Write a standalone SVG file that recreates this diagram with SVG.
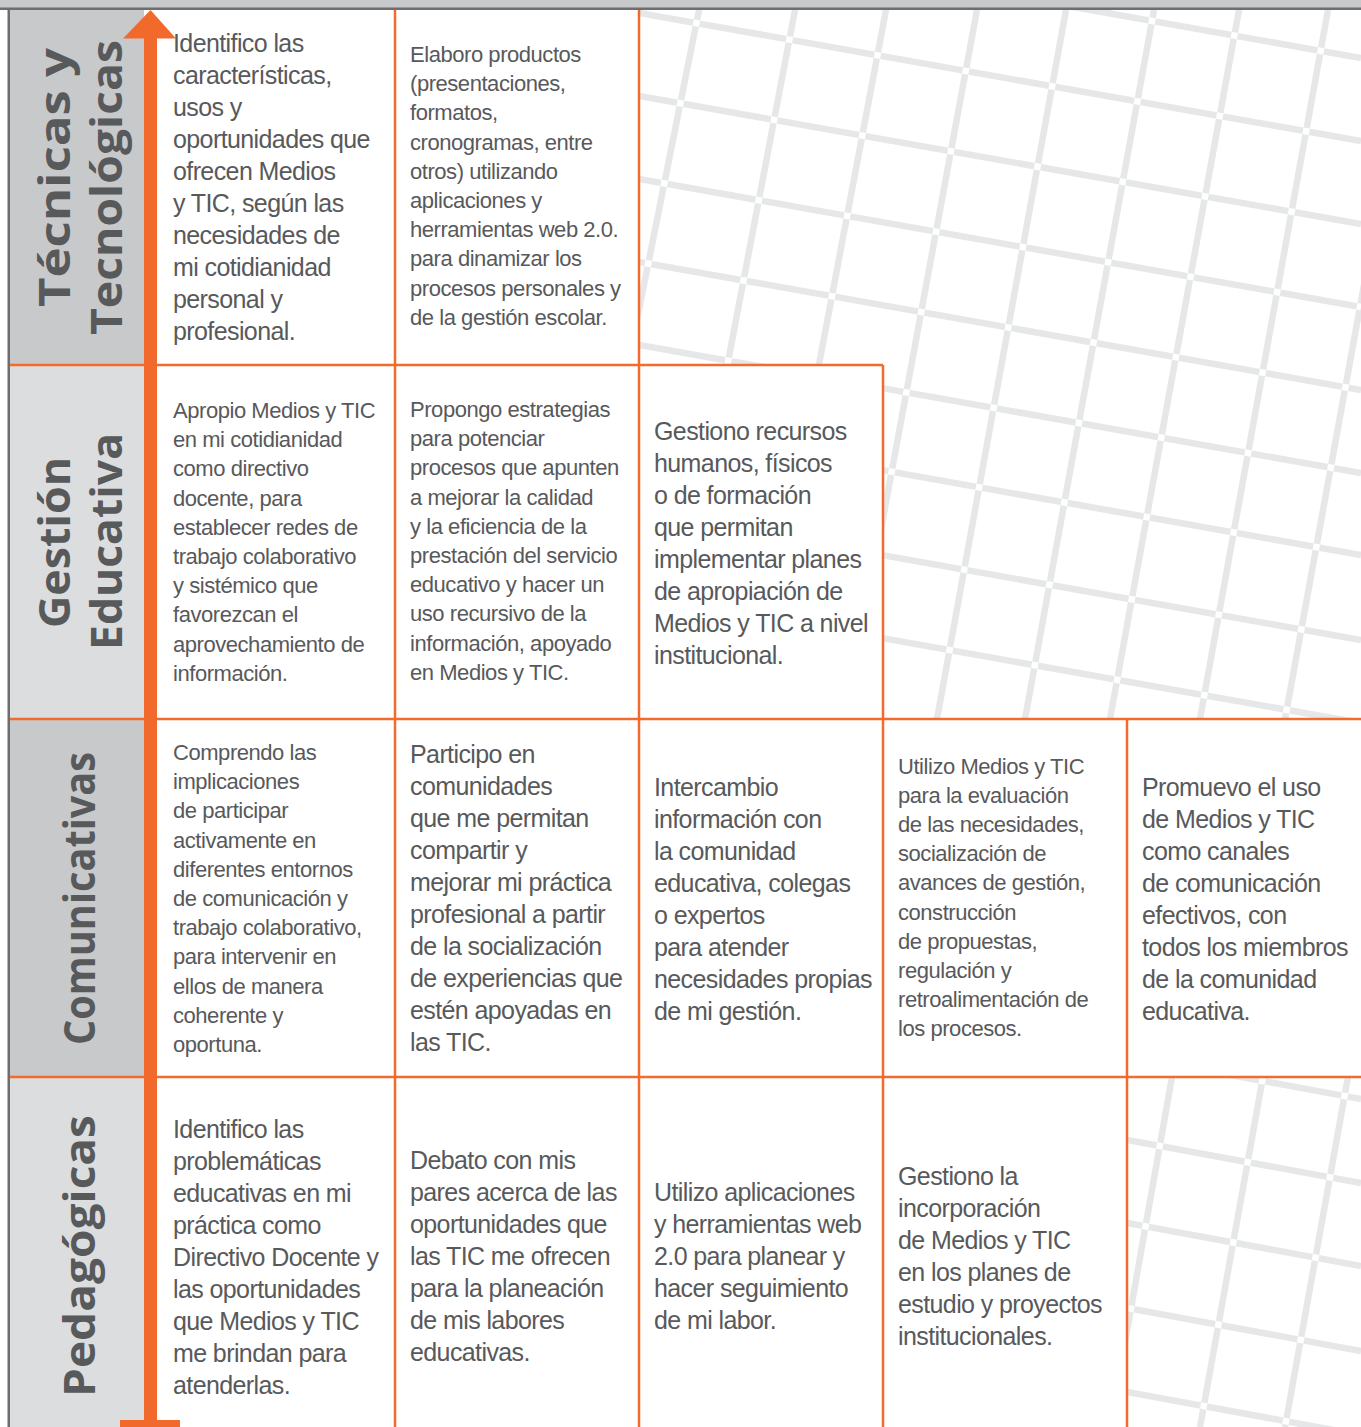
<svg xmlns="http://www.w3.org/2000/svg" xmlns:xlink="http://www.w3.org/1999/xlink" width="1361" height="1427" viewBox="0 0 1361 1427">
<style>
.t{font-family:"Liberation Sans",Arial,sans-serif;fill:#58595b}
.lg{font-size:25px;letter-spacing:-0.6px}
.sm{font-size:22px;letter-spacing:-0.45px}
.lbl{font-family:"Open Sans","DejaVu Sans",sans-serif;font-weight:700;font-size:43px;fill:#58595b;text-anchor:middle}
.ol{stroke:#f26b2c;stroke-width:2.5;fill:none}
.g1{fill:#c8c9cb}
.g2{fill:#dcdddf}
</style>
<defs>
<g id="gh">
<line x1="639" y1="-70" x2="1361" y2="58"/>
<line x1="639" y1="13" x2="1361" y2="141"/>
<line x1="639" y1="96" x2="1361" y2="224"/>
<line x1="639" y1="179" x2="1361" y2="307"/>
<line x1="639" y1="262" x2="1361" y2="390"/>
<line x1="639" y1="345" x2="1361" y2="473"/>
<line x1="639" y1="427" x2="1361" y2="555"/>
<line x1="639" y1="512" x2="1361" y2="640"/>
<line x1="639" y1="595" x2="1361" y2="723"/>
<line x1="639" y1="678" x2="1361" y2="806"/>
<line x1="1127" y1="1056" x2="1361" y2="1099"/>
<line x1="1127" y1="1140" x2="1361" y2="1183"/>
<line x1="1127" y1="1223" x2="1361" y2="1266"/>
<line x1="1127" y1="1308" x2="1361" y2="1351"/>
<line x1="1127" y1="1392" x2="1361" y2="1435"/>
</g>
<g id="gv">
<line x1="699" y1="10" x2="557" y2="719"/>
<line x1="795" y1="10" x2="660" y2="719"/>
<line x1="886" y1="10" x2="752" y2="719"/>
<line x1="977" y1="10" x2="846" y2="719"/>
<line x1="1066" y1="10" x2="937" y2="719"/>
<line x1="1154" y1="10" x2="1025" y2="719"/>
<line x1="1239" y1="10" x2="1110" y2="719"/>
<line x1="1328" y1="10" x2="1200" y2="719"/>
<line x1="1414" y1="10" x2="1285" y2="719"/>
<line x1="1172" y1="1077" x2="1110" y2="1427"/>
<line x1="1263" y1="1077" x2="1200" y2="1427"/>
<line x1="1348" y1="1077" x2="1285" y2="1427"/>
</g>
<clipPath id="cgrid"><path d="M639 10H1361V719H883V365H639Z M1127 1077H1361V1427H1127Z"/></clipPath>
<mask id="noV" maskUnits="userSpaceOnUse" x="0" y="0" width="1361" height="1427"><rect width="1361" height="1427" fill="#fff"/><use href="#gv" stroke="#000" stroke-width="6.5"/></mask>
<mask id="noH" maskUnits="userSpaceOnUse" x="0" y="0" width="1361" height="1427"><rect width="1361" height="1427" fill="#fff"/><use href="#gh" stroke="#000" stroke-width="6.5"/></mask>
</defs>
<rect width="1361" height="1427" fill="#fff"/>
<g id="background-grid" clip-path="url(#cgrid)">
<use href="#gh" stroke="#e6e7e8" stroke-width="6.5" mask="url(#noV)"/>
<use href="#gv" stroke="#e6e7e8" stroke-width="6.5" mask="url(#noH)"/>
</g>
<g id="label-tecnicas">
<rect class="g1" x="10" y="10" width="134" height="355"/>
<text class="lbl" transform="translate(70,177.5) rotate(-90)" textLength="259" lengthAdjust="spacingAndGlyphs">Técnicas y</text>
<text class="lbl" transform="translate(122,187.5) rotate(-90)" textLength="295" lengthAdjust="spacingAndGlyphs">Tecnológicas</text>
</g>
<g id="label-gestion">
<rect class="g2" x="10" y="365" width="134" height="354"/>
<text class="lbl" transform="translate(70,542.5) rotate(-90)" textLength="171" lengthAdjust="spacingAndGlyphs">Gestión</text>
<text class="lbl" transform="translate(122,541.5) rotate(-90)" textLength="217" lengthAdjust="spacingAndGlyphs">Educativa</text>
</g>
<g id="label-comunicativas">
<rect class="g1" x="10" y="719" width="134" height="358"/>
<text class="lbl" transform="translate(95,898.5) rotate(-90)" textLength="293" lengthAdjust="spacingAndGlyphs">Comunicativas</text>
</g>
<g id="label-pedagogicas">
<rect class="g2" x="10" y="1077" width="134" height="350"/>
<text class="lbl" transform="translate(95,1256) rotate(-90)" textLength="282" lengthAdjust="spacingAndGlyphs">Pedagógicas</text>
</g>
<g id="connectors">
<path class="ol" d="M395 10V1427M639 10V1427M883 365V1427M1127 719V1427M10 365H883M10 719H1361M10 1077H1361"/>
</g>
<g id="frame">
<rect x="0" y="0" width="1361" height="8" fill="#c8c9cb"/>
<rect x="0" y="7.5" width="1361" height="2.5" fill="#6d6e71"/>
<rect x="7.5" y="10" width="2.5" height="1417" fill="#6d6e71"/>
</g>
<g id="arrow" fill="#f26a2b">
<rect x="144" y="36" width="13" height="1386"/>
<polygon points="150.5,10 123,38.5 176,38.5"/>
<rect x="120" y="1420" width="60" height="7"/>
</g>
<g id="r1c1"><text class="t lg" y="52">
<tspan x="173">Identifico las</tspan><tspan x="173" dy="32">características,</tspan><tspan x="173" dy="32">usos y</tspan><tspan x="173" dy="32">oportunidades que</tspan><tspan x="173" dy="32">ofrecen Medios</tspan><tspan x="173" dy="32">y TIC, según las</tspan><tspan x="173" dy="32">necesidades de</tspan><tspan x="173" dy="32">mi cotidianidad</tspan><tspan x="173" dy="32">personal y</tspan><tspan x="173" dy="32">profesional.</tspan></text></g>
<g id="r1c2"><text class="t sm" y="62">
<tspan x="410">Elaboro productos</tspan><tspan x="410" dy="29.2">(presentaciones,</tspan><tspan x="410" dy="29.2">formatos,</tspan><tspan x="410" dy="29.2">cronogramas, entre</tspan><tspan x="410" dy="29.2">otros) utilizando</tspan><tspan x="410" dy="29.2">aplicaciones y</tspan><tspan x="410" dy="29.2">herramientas web 2.0.</tspan><tspan x="410" dy="29.2">para dinamizar los</tspan><tspan x="410" dy="29.2">procesos personales y</tspan><tspan x="410" dy="29.2">de la gestión escolar.</tspan></text></g>
<g id="r2c1"><text class="t sm" y="418">
<tspan x="173">Apropio Medios y TIC</tspan><tspan x="173" dy="29.2">en mi cotidianidad</tspan><tspan x="173" dy="29.2">como directivo</tspan><tspan x="173" dy="29.2">docente, para</tspan><tspan x="173" dy="29.2">establecer redes de</tspan><tspan x="173" dy="29.2">trabajo colaborativo</tspan><tspan x="173" dy="29.2">y sistémico que</tspan><tspan x="173" dy="29.2">favorezcan el</tspan><tspan x="173" dy="29.2">aprovechamiento de</tspan><tspan x="173" dy="29.2">información.</tspan></text></g>
<g id="r2c2"><text class="t sm" y="417">
<tspan x="410">Propongo estrategias</tspan><tspan x="410" dy="29.2">para potenciar</tspan><tspan x="410" dy="29.2">procesos que apunten</tspan><tspan x="410" dy="29.2">a mejorar la calidad</tspan><tspan x="410" dy="29.2">y la eficiencia de la</tspan><tspan x="410" dy="29.2">prestación del servicio</tspan><tspan x="410" dy="29.2">educativo y hacer un</tspan><tspan x="410" dy="29.2">uso recursivo de la</tspan><tspan x="410" dy="29.2">información, apoyado</tspan><tspan x="410" dy="29.2">en Medios y TIC.</tspan></text></g>
<g id="r2c3"><text class="t lg" y="440">
<tspan x="654">Gestiono recursos</tspan><tspan x="654" dy="32">humanos, físicos</tspan><tspan x="654" dy="32">o de formación</tspan><tspan x="654" dy="32">que permitan</tspan><tspan x="654" dy="32">implementar planes</tspan><tspan x="654" dy="32">de apropiación de</tspan><tspan x="654" dy="32">Medios y TIC a nivel</tspan><tspan x="654" dy="32">institucional.</tspan></text></g>
<g id="r3c1"><text class="t sm" y="760">
<tspan x="173">Comprendo las</tspan><tspan x="173" dy="29.2">implicaciones</tspan><tspan x="173" dy="29.2">de participar</tspan><tspan x="173" dy="29.2">activamente en</tspan><tspan x="173" dy="29.2">diferentes entornos</tspan><tspan x="173" dy="29.2">de comunicación y</tspan><tspan x="173" dy="29.2">trabajo colaborativo,</tspan><tspan x="173" dy="29.2">para intervenir en</tspan><tspan x="173" dy="29.2">ellos de manera</tspan><tspan x="173" dy="29.2">coherente y</tspan><tspan x="173" dy="29.2">oportuna.</tspan></text></g>
<g id="r3c2"><text class="t lg" y="763">
<tspan x="410">Participo en</tspan><tspan x="410" dy="32">comunidades</tspan><tspan x="410" dy="32">que me permitan</tspan><tspan x="410" dy="32">compartir y</tspan><tspan x="410" dy="32">mejorar mi práctica</tspan><tspan x="410" dy="32">profesional a partir</tspan><tspan x="410" dy="32">de la socialización</tspan><tspan x="410" dy="32">de experiencias que</tspan><tspan x="410" dy="32">estén apoyadas en</tspan><tspan x="410" dy="32">las TIC.</tspan></text></g>
<g id="r3c3"><text class="t lg" y="796">
<tspan x="654">Intercambio</tspan><tspan x="654" dy="32">información con</tspan><tspan x="654" dy="32">la comunidad</tspan><tspan x="654" dy="32">educativa, colegas</tspan><tspan x="654" dy="32">o expertos</tspan><tspan x="654" dy="32">para atender</tspan><tspan x="654" dy="32">necesidades propias</tspan><tspan x="654" dy="32">de mi gestión.</tspan></text></g>
<g id="r3c4"><text class="t sm" y="774">
<tspan x="898">Utilizo Medios y TIC</tspan><tspan x="898" dy="29.1">para la evaluación</tspan><tspan x="898" dy="29.1">de las necesidades,</tspan><tspan x="898" dy="29.1">socialización de</tspan><tspan x="898" dy="29.1">avances de gestión,</tspan><tspan x="898" dy="29.1">construcción</tspan><tspan x="898" dy="29.1">de propuestas,</tspan><tspan x="898" dy="29.1">regulación y</tspan><tspan x="898" dy="29.1">retroalimentación de</tspan><tspan x="898" dy="29.1">los procesos.</tspan></text></g>
<g id="r3c5"><text class="t lg" y="796">
<tspan x="1142">Promuevo el uso</tspan><tspan x="1142" dy="32">de Medios y TIC</tspan><tspan x="1142" dy="32">como canales</tspan><tspan x="1142" dy="32">de comunicación</tspan><tspan x="1142" dy="32">efectivos, con</tspan><tspan x="1142" dy="32">todos los miembros</tspan><tspan x="1142" dy="32">de la comunidad</tspan><tspan x="1142" dy="32">educativa.</tspan></text></g>
<g id="r4c1"><text class="t lg" y="1138">
<tspan x="173">Identifico las</tspan><tspan x="173" dy="32">problemáticas</tspan><tspan x="173" dy="32">educativas en mi</tspan><tspan x="173" dy="32">práctica como</tspan><tspan x="173" dy="32">Directivo Docente y</tspan><tspan x="173" dy="32">las oportunidades</tspan><tspan x="173" dy="32">que Medios y TIC</tspan><tspan x="173" dy="32">me brindan para</tspan><tspan x="173" dy="32">atenderlas.</tspan></text></g>
<g id="r4c2"><text class="t lg" y="1169">
<tspan x="410">Debato con mis</tspan><tspan x="410" dy="32">pares acerca de las</tspan><tspan x="410" dy="32">oportunidades que</tspan><tspan x="410" dy="32">las TIC me ofrecen</tspan><tspan x="410" dy="32">para la planeación</tspan><tspan x="410" dy="32">de mis labores</tspan><tspan x="410" dy="32">educativas.</tspan></text></g>
<g id="r4c3"><text class="t lg" y="1201">
<tspan x="654">Utilizo aplicaciones</tspan><tspan x="654" dy="32">y herramientas web</tspan><tspan x="654" dy="32">2.0 para planear y</tspan><tspan x="654" dy="32">hacer seguimiento</tspan><tspan x="654" dy="32">de mi labor.</tspan></text></g>
<g id="r4c4"><text class="t lg" y="1185">
<tspan x="898">Gestiono la</tspan><tspan x="898" dy="32">incorporación</tspan><tspan x="898" dy="32">de Medios y TIC</tspan><tspan x="898" dy="32">en los planes de</tspan><tspan x="898" dy="32">estudio y proyectos</tspan><tspan x="898" dy="32">institucionales.</tspan></text></g>
</svg>
